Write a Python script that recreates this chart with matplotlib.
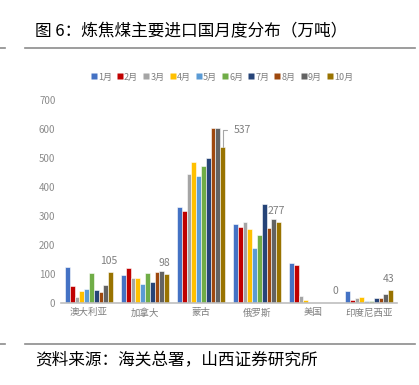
import matplotlib
matplotlib.use("Agg")
import matplotlib.pyplot as plt
from matplotlib.lines import Line2D
import numpy as np

plt.rcParams['font.family'] = ['Noto Sans CJK SC', 'DejaVu Sans']

categories = ["澳大利亚", "加拿大", "蒙古", "俄罗斯", "美国", "印度尼西亚"]
months = ["1月", "2月", "3月", "4月", "5月", "6月", "7月", "8月", "9月", "10月"]
australia = [122, 56, 20, 40, 47, 104, 44, 38, 60, 105]
canada = [96, 119, 85, 84, 64, 101, 71, 105, 110, 98]
mongolia = [329, 317, 443, 485, 437, 473, 500, 602, 602, 537]
russia = [272, 260, 280, 253, 189, 234, 340, 257, 289, 277]
usa = [138, 129, 23, 8, 0, 0, 0, 0, 0, 0]
indonesia = [41, 9, 16, 21, 6, 6, 15, 17, 30, 43]
yticks = [0, 100, 200, 300, 400, 500, 600, 700]

data = np.array([australia, canada, mongolia, russia, usa, indonesia])
colors = ["#4472C4", "#C00000", "#A5A5A5", "#FFC000", "#5B9BD5",
          "#70AD47", "#264478", "#9E480E", "#636363", "#997300"]

fig = plt.figure(figsize=(4.19, 3.85), dpi=100)
ax = fig.add_axes([61/419, 1-302.7/385, 336/419, 202.7/385])

n = len(months)
bw = 0.086
x = np.arange(len(categories))
for i in range(n):
    ax.bar(x + (i - (n-1)/2) * bw, data[:, i], width=bw, color=colors[i],
           edgecolor='white', linewidth=0.4, label=months[i])

ax.set_xlim(-0.5, len(categories) - 0.5)
ax.set_ylim(0, 700)
ax.set_yticks(yticks)
ax.set_yticklabels([str(v) for v in yticks], fontsize=7, color='#8c8c8c')
ax.set_xticks(x)
ax.set_xticklabels(categories, fontsize=6.8, color='#7f7f7f')
ax.tick_params(axis='both', length=0, pad=4)
for s in ['top', 'right', 'left']:
    ax.spines[s].set_visible(False)
ax.spines['bottom'].set_color('#bfbfbf')
ax.spines['bottom'].set_linewidth(1.2)

# data labels for 10月
last = n - 1
xo = (last - (n-1)/2) * bw
for j, c in enumerate(categories):
    v = data[j, last]
    if j == 2:
        ax.annotate(str(v), xy=(x[j] + xo, v), xytext=(x[j] + xo + 0.2, v + 60),
                    fontsize=7.5, color='#7f7f7f', va='center', ha='left',
                    arrowprops=dict(arrowstyle='-', color='#a6a6a6', lw=0.8,
                                    connectionstyle='angle,angleA=0,angleB=90,rad=0',
                                    shrinkA=3, shrinkB=0))
    elif j == 4:
        ax.text(x[j] + xo + 0.02, v + 22, str(v), fontsize=7.5, color='#7f7f7f',
                ha='center', va='bottom')
    else:
        ax.text(x[j] + xo - 0.04, v + 22, str(v), fontsize=7.5, color='#7f7f7f',
                ha='center', va='bottom')

handles = [Line2D([0], [0], marker='s', color='none', markerfacecolor=colors[i],
                  markeredgecolor='none', markersize=4) for i in range(n)]
fig.legend(handles, months, loc='center', bbox_to_anchor=(222/419, 1-77/385),
           ncol=n, frameon=False, fontsize=6.5, handlelength=0.6, handletextpad=0.15,
           columnspacing=0.6, labelcolor='#7f7f7f', borderpad=0)

fig.text(35/419, 1-32/385, "图 6：炼焦煤主要进口国月度分布（万吨）", fontsize=12,
         va='center', ha='left', color='black')
fig.text(35/419, 1-361/385, "资料来源：海关总署，山西证券研究所", fontsize=12,
         va='center', ha='left', color='black')

for yy in [47.7, 343.5]:
    fig.add_artist(Line2D([25/419, 415/419], [1-yy/385, 1-yy/385], color='#8c8c8c', lw=1.2))
    fig.add_artist(Line2D([0, 5/419], [1-yy/385, 1-yy/385], color='#8c8c8c', lw=1.2))

fig.savefig("out.png", dpi=100)
